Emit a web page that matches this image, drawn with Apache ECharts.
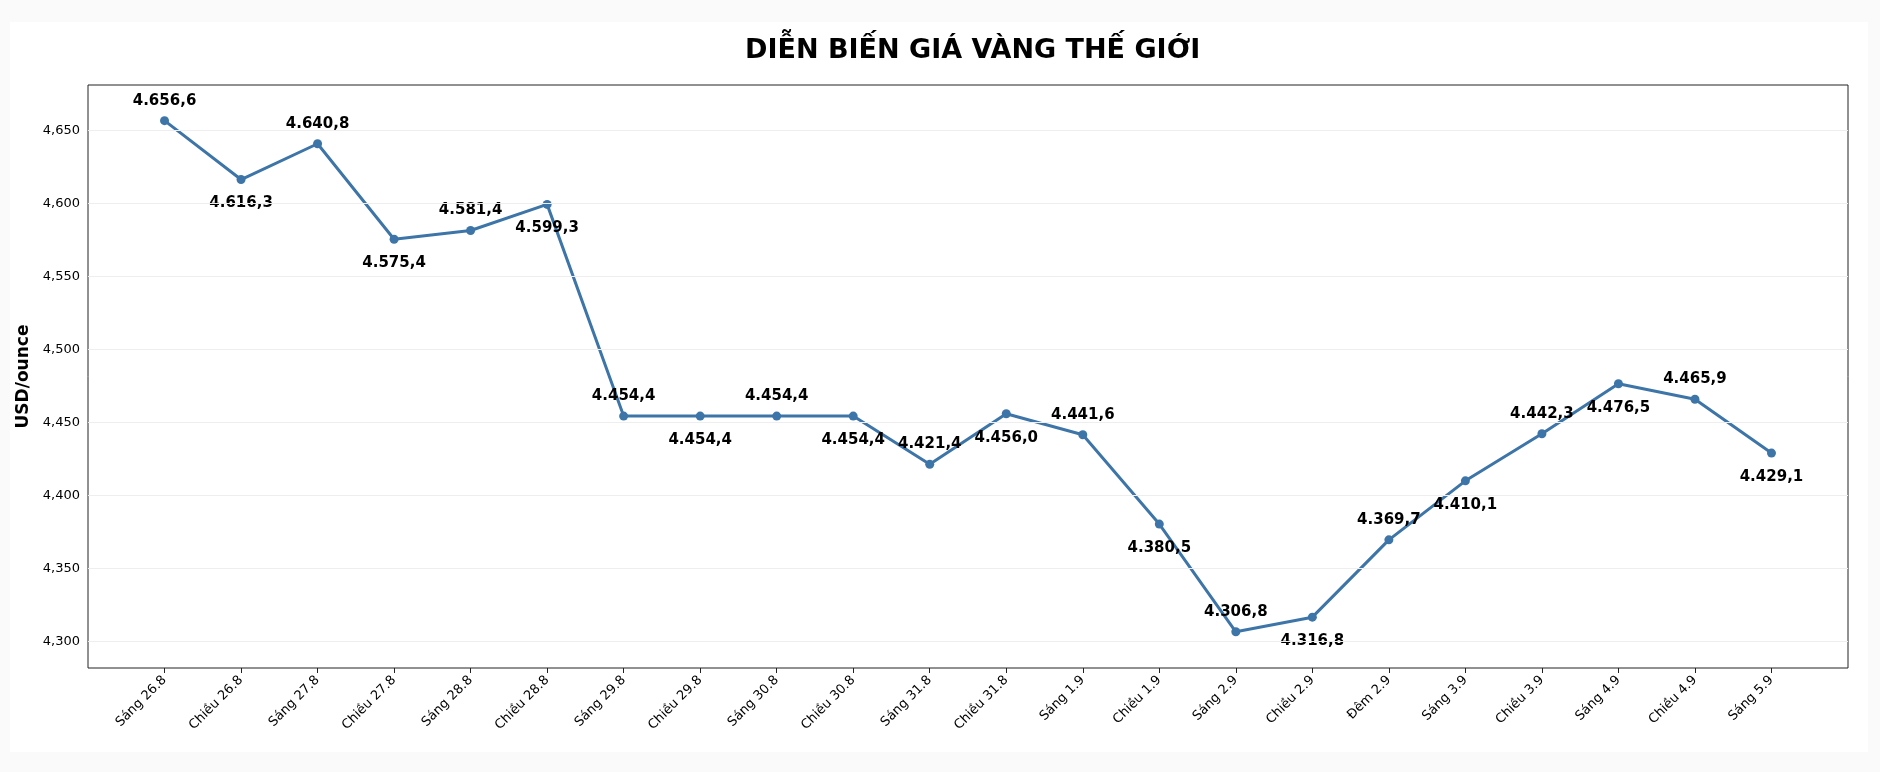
<!DOCTYPE html><html><head><meta charset="utf-8"><script src="https://cdn.jsdelivr.net/npm/echarts@6/dist/echarts.min.js"></script>
<style>html,body{margin:0;background:#fafafa}#c{width:1880px;height:772px}</style></head><body><div id="c"></div><script>
const categories=["Sáng 26.8","Chiều 26.8","Sáng 27.8","Chiều 27.8","Sáng 28.8","Chiều 28.8","Sáng 29.8","Chiều 29.8","Sáng 30.8","Chiều 30.8","Sáng 31.8","Chiều 31.8","Sáng 1.9","Chiều 1.9","Sáng 2.9","Chiều 2.9","Đêm 2.9","Sáng 3.9","Chiều 3.9","Sáng 4.9","Chiều 4.9","Sáng 5.9"];
const prices=[4656.6,4616.3,4640.8,4575.4,4581.4,4599.3,4454.4,4454.4,4454.4,4454.4,4421.4,4456.0,4441.6,4380.5,4306.8,4316.8,4369.7,4410.1,4442.3,4476.5,4465.9,4429.1];
const yTicks=[4300,4350,4400,4450,4500,4550,4600,4650];
const fmt=v=>{const [a,b]=v.toFixed(1).split('.');return a.replace(/\B(?=(\d{3})+$)/g,'.')+','+b;};
const idx=categories.map((c,i)=>i);
const data=prices.map((v,i)=>({value:[i,v],label:{position:i%2===0?'top':'bottom',distance:i%2===0?8:12}}));
const ch=echarts.init(document.getElementById('c'));
ch.setOption({backgroundColor:'#fafafa',animation:false,
graphic:[{type:'rect',z:-10,shape:{x:10,y:22,width:1858,height:730},style:{fill:'#fff'}}],
title:{text:'DIỄN BIẾN GIÁ VÀNG THẾ GIỚI',left:740,top:32,textStyle:{fontFamily:'DejaVu Sans',fontSize:27,fontWeight:'bold',color:'#000'}},
grid:{left:88,right:32,top:85,bottom:104,show:true,borderColor:'#222',borderWidth:1},
xAxis:{type:'value',min:-1,max:22,splitLine:{show:false},axisLine:{show:false},
axisTick:{show:true,customValues:idx,lineStyle:{color:'#222'},length:5},
axisLabel:{customValues:idx,rotate:45,fontFamily:'DejaVu Sans',fontSize:13,color:'#000',margin:10,formatter:v=>categories[v]||''}},
yAxis:{type:'value',min:4282,max:4681,name:'USD/ounce',nameLocation:'middle',nameGap:50,nameTextStyle:{fontFamily:'DejaVu Sans',fontSize:17,fontWeight:'bold',color:'#000'},
axisLine:{show:false},axisTick:{show:true,customValues:yTicks,lineStyle:{color:'#222'},length:5},splitLine:{show:false},
axisLabel:{customValues:yTicks,fontFamily:'DejaVu Sans',fontSize:13,color:'#000'}},
series:[{type:'line',data:data,symbol:'circle',symbolSize:9,lineStyle:{color:'#3d75a8',width:3},itemStyle:{color:'#3d75a8'},
markLine:{silent:true,symbol:'none',label:{show:false},lineStyle:{color:'#eee',type:'solid',width:1},data:yTicks.map(y=>({yAxis:y}))},
label:{show:true,fontFamily:'DejaVu Sans',fontSize:15,fontWeight:'bold',color:'#000',formatter:p=>fmt(p.value[1])}}]});
</script></body></html>
